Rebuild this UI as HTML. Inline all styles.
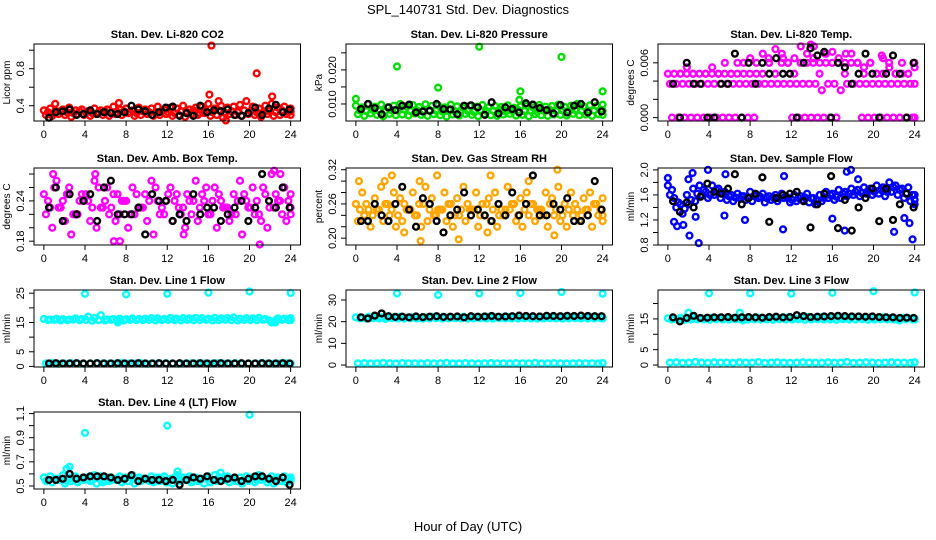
<!DOCTYPE html>
<html><head><meta charset="utf-8"><style>
html,body{margin:0;padding:0;background:#fff}
svg{display:block;font-family:"Liberation Sans",sans-serif}
</style></head><body>
<svg id="chart" width="936" height="540" viewBox="0 0 936 540">
<text x="468" y="14" text-anchor="middle" font-size="13">SPL_140731  Std. Dev. Diagnostics</text>
<text x="468" y="531" text-anchor="middle" font-size="13">Hour of Day (UTC)</text>
</svg>
<script>
const xTicks = [0,4,8,12,16,20,24];

const co2A = [0.35,0.37,0.34,0.36,0.38,0.35,0.36,0.34,0.37,0.35,0.36,0.39,0.36,0.37,0.35,0.38,0.36,0.37,0.39,0.36,0.38,0.37,0.40,0.36,0.38,0.39,0.42,0.37,0.40,0.38,0.39,0.41,0.45,0.39,0.37,0.40,0.42,0.38,0.39,0.37];
const co2B = [0.30,0.29,0.31,0.30,0.28,0.31,0.30,0.29,0.31,0.30,0.29,0.31,0.30,0.32,0.29,0.30,0.31,0.29,0.30,0.31,0.29,0.30,0.28,0.31,0.30,0.32,0.29,0.30,0.27,0.31,0.30,0.29,0.31,0.30,0.28,0.31,0.29,0.30,0.31,0.30];
const co2C = [0.33,0.32,0.34,0.33,0.32,0.34,0.33,0.32,0.33,0.34,0.32,0.33,0.34,0.33,0.32,0.34,0.33,0.32,0.34,0.33,0.32,0.34,0.33,0.35,0.32,0.34,0.33,0.35,0.32,0.34,0.33,0.35,0.34,0.33,0.32,0.34,0.33,0.35,0.33,0.34];
const co2Black = [0.27,0.33,0.34,0.36,0.30,0.31,0.35,0.31,0.33,0.32,0.31,0.33,0.40,0.36,0.34,0.30,0.33,0.38,0.39,0.29,0.32,0.29,0.40,0.33,0.35,0.34,0.36,0.30,0.29,0.32,0.38,0.30,0.37,0.41,0.33,0.36];
const co2OutX = [16.3,20.7,16.1,22.2,17.0,17.7,1.1,7.3];
const co2OutY = [1.05,0.75,0.52,0.50,0.45,0.24,0.42,0.43];

const presA = [0.0095,0.0090,0.0100,0.0092,0.0098,0.0090,0.0095,0.0100,0.0093,0.0097,0.0091,0.0099,0.0094,0.0096,0.0090,0.0098,0.0093,0.0088,0.0095,0.0092,0.0097,0.0090,0.0094,0.0091,0.0096,0.0089,0.0093,0.0095,0.0090,0.0097,0.0092,0.0094,0.0098,0.0091,0.0095,0.0100,0.0093,0.0096,0.0094,0.0098];
const presB = [0.0070,0.0065,0.0072,0.0068,0.0064,0.0071,0.0067,0.0069,0.0066,0.0072,0.0068,0.0065,0.0070,0.0067,0.0063,0.0069,0.0066,0.0071,0.0068,0.0064,0.0070,0.0067,0.0065,0.0069,0.0071,0.0066,0.0068,0.0064,0.0070,0.0067,0.0065,0.0069,0.0068,0.0066,0.0071,0.0067,0.0069,0.0065,0.0070,0.0068];
const presC = [0.0081,0.0079,0.0083,0.0080,0.0078,0.0082,0.0080,0.0084,0.0079,0.0081,0.0077,0.0082,0.0080,0.0078,0.0083,0.0079,0.0081,0.0080,0.0077,0.0082,0.0079,0.0081,0.0083,0.0078,0.0080,0.0082,0.0079,0.0081,0.0077,0.0080,0.0083,0.0079,0.0081,0.0078,0.0082,0.0080,0.0079,0.0081,0.0083,0.0080];
const presBlack = [0.0085,0.0100,0.0088,0.0070,0.0090,0.0082,0.0095,0.0098,0.0075,0.0078,0.0080,0.0100,0.0085,0.0084,0.0070,0.0095,0.0096,0.0090,0.0068,0.0105,0.0072,0.0090,0.0085,0.0075,0.0102,0.0098,0.0088,0.0082,0.0072,0.0097,0.0075,0.0095,0.0100,0.0075,0.0105,0.0078];
const presOutX = [0,4,8,12,16,15.9,20,24];
const presOutY = [0.0115,0.0210,0.0148,0.0268,0.0137,0.0112,0.0238,0.0137];

const tempA = [0.0048,0.0048,0.0048,0.0055,0.0048,0.0048,0.0048,0.0055,0.0048,0.0060,0.0048,0.0060,0.0060,0.0065,0.0060,0.0070,0.0060,0.0075,0.0070,0.0060,0.0065,0.0078,0.0070,0.0065,0.0060,0.0070,0.0072,0.0065,0.0060,0.0070,0.0060,0.0055,0.0060,0.0048,0.0065,0.0055,0.0048,0.0060,0.0048,0.0055];
const tempB = [0.0037,0.0037,0.0037,0.0037,0.0037,0.0037,0.0037,0.0037,0.0037,0.0037,0.0037,0.0037,0.0037,0.0037,0.0037,0.0037,0.0037,0.0037,0.0037,0.0037,0.0037,0.0037,0.0037,0.0037,0.0030,0.0037,0.0037,0.0030,0.0037,0.0037,0.0037,0.0037,0.0037,0.0037,0.0037,0.0037,0.0037,0.0037,0.0037,0.0037];
const tempC = [0,0,0,0,0,0,0,0,0,0,0,0,0,0,null,null,null,null,null,0,0,0,0,0,0,0,0,null,null,null,0,0,0,0,0,0,0,0,0,0];
const tempD = [null,0.0048,0.0048,0.0048,null,0.0048,0.0048,0.0048,0.0048,0.0048,0.0048,0.0048,0.0048,0.0048,0.0048,0.0060,0.0048,0.0060,0.0060,0.0048,0.0060,0.0060,0.0060,0.0048,0.0060,0.0060,0.0060,0.0048,0.0060,0.0060,0.0048,0.0060,0.0048,0.0048,0.0060,0.0048,0.0048,0.0048,0.0060,null];
const tempBlack = [0.0037,0,0.0060,0.0037,0.0037,0,0,0.0037,0.0037,0.0070,0,0.0060,0.0037,0.0060,0.0048,0.0065,0.0048,0.0048,0,0.0060,0.0076,0.0068,0.0072,0,0.0060,0.0055,0.0037,0.0048,0.0070,0.0048,0,0.0048,0.0068,0.0048,0,0.0060];
const tempOutX = [9.8,11.2,13.9,14.2,15.3,17.3,20.8];
const tempOutY = [0.0065,0.0065,0.0080,0.0078,0.0070,0.0070,0.0068];

const ambA = [0.25,0.23,0.27,0.24,0.26,0.22,0.25,0.24,0.27,0.23,0.26,0.25,0.22,0.24,0.26,0.23,0.25,0.27,0.24,0.22,0.26,0.25,0.23,0.24,0.27,0.25,0.22,0.26,0.24,0.23,0.25,0.27,0.24,0.26,0.22,0.25,0.28,0.24,0.26,0.25];
const ambB = [0.22,0.20,0.23,0.21,0.19,0.22,0.24,0.21,0.20,0.23,0.22,0.21,0.24,0.20,0.22,0.23,0.21,0.19,0.22,0.24,0.21,0.23,0.20,0.22,0.21,0.24,0.22,0.20,0.23,0.21,0.22,0.19,0.23,0.22,0.21,0.20,0.23,0.24,0.21,0.22];
const ambC = [0.24,0.26,0.23,0.25,0.22,0.24,0.25,0.23,0.26,0.24,0.23,0.25,0.24,0.22,0.25,0.23,0.24,0.26,0.23,0.25,0.24,0.22,0.25,0.24,0.23,0.26,0.24,0.25,0.23,0.22,0.24,0.25,0.23,0.24,0.26,0.23,0.25,0.22,0.24,0.23];
const ambBlack = [0.23,0.26,0.21,0.25,0.22,0.24,0.25,0.21,0.26,0.27,0.22,0.22,0.22,0.23,0.19,0.25,0.24,0.24,0.21,0.22,0.21,0.25,0.22,0.23,0.23,0.21,0.22,0.23,0.24,0.21,0.23,0.28,0.24,0.23,0.26,0.23];
const ambOutX = [0.9,5.0,6.8,7.4,13.6,21.0,22.4,23.0];
const ambOutY = [0.28,0.28,0.18,0.18,0.19,0.175,0.285,0.28];

const rhA = [0.26,0.28,0.25,0.27,0.29,0.26,0.28,0.27,0.25,0.28,0.26,0.29,0.27,0.25,0.28,0.26,0.27,0.29,0.25,0.28,0.26,0.27,0.28,0.25,0.29,0.26,0.27,0.28,0.26,0.25,0.28,0.27,0.29,0.26,0.28,0.25,0.27,0.28,0.26,0.27];
const rhB = [0.23,0.24,0.22,0.25,0.23,0.24,0.22,0.23,0.25,0.24,0.22,0.23,0.24,0.25,0.23,0.22,0.24,0.23,0.25,0.22,0.24,0.23,0.22,0.24,0.25,0.23,0.22,0.24,0.23,0.25,0.22,0.24,0.23,0.22,0.24,0.23,0.25,0.22,0.24,0.23];
const rhC = [0.25,0.26,0.24,0.25,0.26,0.25,0.24,0.26,0.25,0.24,0.26,0.25,0.24,0.25,0.26,0.24,0.25,0.26,0.25,0.24,0.26,0.25,0.24,0.25,0.26,0.24,0.25,0.26,0.25,0.24,0.26,0.25,0.24,0.25,0.26,0.24,0.25,0.26,0.25,0.24];
const rhBlack = [0.23,0.23,0.26,0.24,0.23,0.26,0.29,0.25,0.22,0.27,0.26,0.23,0.21,0.24,0.25,0.28,0.24,0.25,0.24,0.23,0.26,0.24,0.28,0.24,0.26,0.31,0.24,0.24,0.26,0.25,0.27,0.23,0.23,0.24,0.30,0.25];
const rhOutX = [0.3,2.8,3.5,6.2,7.9,6.3,10.0,12.8,13.1,19.6,19.3,16.8,4.7];
const rhOutY = [0.30,0.30,0.31,0.30,0.31,0.195,0.198,0.21,0.31,0.32,0.205,0.30,0.21];

const sfA = [1.75,1.55,1.45,1.60,1.70,1.75,1.65,1.75,1.70,1.65,1.60,1.62,1.58,1.65,1.60,1.62,1.58,1.60,1.62,1.55,1.60,1.58,1.62,1.55,1.60,1.65,1.62,1.68,1.65,1.70,1.68,1.72,1.70,1.75,1.72,1.80,1.75,1.70,1.72,1.60];
const sfB = [1.60,1.40,1.30,1.45,1.50,1.60,1.55,1.60,1.55,1.52,1.50,1.55,1.52,1.50,1.55,1.48,1.52,1.50,1.55,1.48,1.50,1.52,1.48,1.45,1.50,1.55,1.52,1.55,1.58,1.60,1.58,1.62,1.60,1.62,1.58,1.65,1.60,1.55,1.50,1.45];
const sfC = [1.68,1.48,1.38,1.52,1.62,1.68,1.60,1.68,1.62,1.58,1.56,1.58,1.55,1.58,1.57,1.55,1.56,1.55,1.58,1.52,1.55,1.56,1.55,1.50,1.55,1.60,1.57,1.62,1.62,1.65,1.63,1.67,1.65,1.68,1.65,1.72,1.68,1.62,1.60,1.52];
const sfBlack = [1.50,1.33,1.48,1.40,1.57,1.78,1.65,1.62,1.70,1.93,1.45,1.55,1.62,1.88,1.17,1.55,1.60,1.62,1.65,1.50,1.08,1.45,1.62,1.90,1.07,1.52,1.03,1.40,1.55,1.70,1.18,1.70,1.20,1.45,1.62,1.40];
const sfOutX = [0,0.6,0.9,1.5,2.0,2.1,2.4,2.7,3.0,3.9,5.5,7.5,11.2,11.3,16.0,17.2,17.4,17.8,18.5,22.0,23.0,23.8,23.5,5.6];
const sfOutY = [1.87,1.17,1.10,1.12,1.85,0.95,1.95,1.25,0.83,2.00,1.27,1.20,1.05,1.90,1.22,1.03,1.97,2.00,1.85,1.01,1.23,0.89,1.15,1.93];

const l1A = [16.2,16.0,16.3,16.1,16.0,16.4,16.2,17.0,16.5,17.5,16.0,16.2,16.3,16.1,16.4,16.2,16.3,16.5,16.4,16.2,16.6,16.3,16.5,16.4,16.6,16.5,16.3,16.6,16.4,16.5,16.7,16.3,16.5,16.4,16.6,16.2,15.0,16.4,16.3,16.5];
const l1B = [1.0,1.1,0.9,1.0,1.1,1.0,0.9,1.0,1.1,1.0,1.0,0.9,1.1,1.0,1.0,1.1,0.9,1.0,1.0,1.1,1.0,0.9,1.0,1.1,1.0,1.0,0.9,1.1,1.0,1.0,1.1,0.9,1.0,1.0,1.1,1.0,0.9,1.0,1.1,1.0];
const l1C = [15.8,15.9,15.7,15.8,16.0,15.8,15.9,15.6,15.8,15.7,15.9,15.8,15.7,15.9,15.8,15.8,15.9,15.7,15.8,15.9,15.8,15.7,15.9,15.8,15.8,15.9,15.7,15.8,15.9,15.8,15.7,15.9,15.8,15.8,15.9,15.7,15.8,15.9,15.8,15.8];
const l1Black = [1.0,1.1,1.0,1.0,1.1,1.0,1.0,1.1,1.0,1.0,1.1,1.0,1.0,1.1,1.0,1.0,1.1,1.0,1.0,1.1,1.0,1.0,1.1,1.0,1.0,1.1,1.0,1.0,1.1,1.0,1.0,1.1,1.0,1.0,1.1,1.0];
const l1OutX = [4,8,12,16,20,24,7.2,22.5];
const l1OutY = [24.8,24.6,24.8,25.2,25.6,25.1,15.0,15.0];

const l2A = [22.0,21.8,22.2,21.9,22.1,21.8,22.0,22.3,21.9,22.1,21.7,22.0,22.2,21.9,22.1,22.0,21.8,22.2,22.0,22.1,21.9,22.3,22.0,21.8,22.2,22.1,21.9,22.0,22.2,21.8,22.1,22.0,21.9,22.2,22.0,21.8,22.1,22.0,22.2,21.9];
const l2B = [0.8,0.9,0.7,0.8,1.0,0.8,0.7,0.9,0.8,0.8,0.7,0.9,0.8,0.8,1.0,0.7,0.8,0.9,0.8,0.7,0.8,0.9,0.8,0.8,0.7,0.9,0.8,0.8,1.0,0.7,0.8,0.9,0.8,0.7,0.8,0.9,0.8,0.8,0.7,0.9];
const l2C = [21.5,21.4,21.6,21.5,21.3,21.6,21.5,21.4,21.6,21.5,21.4,21.5,21.6,21.4,21.5,21.6,21.5,21.4,21.5,21.6,21.5,21.4,21.6,21.5,21.5,21.4,21.6,21.5,21.4,21.5,21.6,21.5,21.4,21.5,21.6,21.5,21.4,21.5,21.6,21.5];
const l2Black = [22.0,21.5,22.8,23.8,22.5,22.2,22.3,22.0,22.4,22.1,22.3,22.5,22.2,22.3,22.4,22.0,22.5,22.3,22.4,22.6,22.3,22.4,22.5,22.8,22.6,22.5,22.4,22.7,22.6,22.5,22.7,22.6,22.8,22.6,22.5,22.5];
const l2OutX = [4,8,12,16,20,24];
const l2OutY = [33.0,32.3,33.0,33.2,33.7,32.9];

const l3A = [15.2,15.0,15.4,15.1,15.3,15.2,15.0,15.4,15.3,15.1,15.2,15.4,15.3,15.1,15.5,15.3,15.2,15.4,15.3,15.5,15.2,15.4,15.6,15.3,15.5,15.4,15.2,15.5,15.3,15.4,15.6,15.3,15.4,15.2,15.5,15.3,15.1,15.4,15.3,15.2];
const l3B = [0.8,0.9,0.7,0.8,1.0,0.8,0.7,0.9,0.8,0.8,0.7,0.9,0.8,0.8,1.0,0.7,0.8,0.9,0.8,0.7,0.8,0.9,0.8,0.8,0.7,0.9,0.8,0.8,1.0,0.7,0.8,0.9,0.8,0.7,0.8,0.9,0.8,0.8,0.7,0.9];
const l3C = [14.8,14.9,14.7,14.8,14.9,14.8,14.7,14.9,14.8,14.8,14.9,14.7,14.8,14.9,14.8,14.8,14.7,14.9,14.8,14.8,14.9,14.7,14.8,14.9,14.8,14.8,14.7,14.9,14.8,14.8,14.9,14.7,14.8,14.9,14.8,14.8,14.7,14.9,14.8,14.8];
const l3Black = [15.5,14.2,15.3,16.0,15.3,15.4,15.5,15.5,15.6,15.4,15.5,15.6,15.5,15.4,15.6,15.7,15.5,15.6,16.2,15.9,15.6,15.7,15.8,15.9,16.0,15.9,15.8,15.8,15.7,15.8,15.6,15.5,15.5,15.3,15.4,15.3];
const l3OutX = [4,8,12,16,20,24,2.0,7.0,7.3,22.5];
const l3OutY = [23.3,23.3,23.2,23.5,24.0,23.6,17.0,17.0,14.5,14.5];

const l4A = [0.57,0.58,0.56,0.59,0.57,0.58,0.56,0.57,0.59,0.58,0.57,0.56,0.58,0.57,0.59,0.57,0.56,0.58,0.57,0.58,0.56,0.59,0.57,0.58,0.57,0.56,0.58,0.59,0.57,0.58,0.56,0.57,0.58,0.57,0.59,0.56,0.58,0.57,0.58,0.57];
const l4B = [0.54,0.53,0.55,0.52,0.54,0.53,0.55,0.54,0.52,0.53,0.54,0.55,0.53,0.54,0.52,0.54,0.55,0.53,0.54,0.53,0.52,0.54,0.55,0.53,0.54,0.52,0.53,0.54,0.55,0.53,0.54,0.52,0.54,0.53,0.55,0.53,0.52,0.54,0.53,0.54];
const l4C = [0.55,0.56,0.55,0.54,0.56,0.55,0.57,0.55,0.56,0.54,0.55,0.56,0.55,0.57,0.55,0.56,0.54,0.55,0.56,0.55,0.57,0.55,0.56,0.54,0.55,0.56,0.55,0.57,0.55,0.56,0.54,0.55,0.56,0.55,0.57,0.55,0.56,0.54,0.55,0.56];
const l4Black = [0.55,0.55,0.56,0.60,0.56,0.57,0.58,0.58,0.58,0.57,0.55,0.56,0.59,0.54,0.56,0.55,0.55,0.54,0.55,0.51,0.55,0.57,0.56,0.58,0.55,0.54,0.56,0.57,0.54,0.56,0.58,0.58,0.56,0.54,0.57,0.51];
const l4OutX = [4,12,20,2.2,2.5,13.0,17.2];
const l4OutY = [0.94,1.00,1.09,0.64,0.66,0.62,0.61];

const panels = [
 {name:'co2',title:'Stan. Dev. Li-820 CO2',ylab:'Licor ppm',col:0,row:0,ylim:[0.235,1.067],ticks:[0.4,0.6,0.8,1.0],labels:['0.4','','0.8',''],color:'#ff0000',series:[co2A,co2B,co2C],black:co2Black,ox:co2OutX,oy:co2OutY},
 {name:'pressure',title:'Stan. Dev. Li-820 Pressure',ylab:'kPa',col:1,row:0,ylim:[0.005,0.0276],ticks:[0.010,0.015,0.020,0.025],labels:['0.010','','0.020',''],color:'#00e000',series:[presA,presB,presC],black:presBlack,ox:presOutX,oy:presOutY},
 {name:'temp',title:'Stan. Dev. Li-820 Temp.',ylab:'degrees C',col:2,row:0,ylim:[-0.00037,0.00806],ticks:[0,0.002,0.004,0.006],labels:['0.000','','','0.006'],color:'#ff00ff',series:[tempA,tempB,tempC,tempD],black:tempBlack,ox:tempOutX,oy:tempOutY},
 {name:'amb-temp',title:'Stan. Dev. Amb. Box Temp.',ylab:'degrees C',col:0,row:1,ylim:[0.1743,0.289],ticks:[0.18,0.20,0.22,0.24,0.26,0.28],labels:['0.18','','','0.24','',''],color:'#ff00ff',series:[ambA,ambB,ambC],black:ambBlack,ox:ambOutX,oy:ambOutY},
 {name:'gas-rh',title:'Stan. Dev. Gas Stream RH',ylab:'percent',col:1,row:1,ylim:[0.188,0.323],ticks:[0.20,0.22,0.24,0.26,0.28,0.30,0.32],labels:['0.20','','','0.26','','','0.32'],color:'#ffa500',series:[rhA,rhB,rhC],black:rhBlack,ox:rhOutX,oy:rhOutY},
 {name:'sample-flow',title:'Stan. Dev. Sample Flow',ylab:'ml/min',col:2,row:1,ylim:[0.8,2.03],ticks:[0.8,1.0,1.2,1.4,1.6,1.8,2.0],labels:['0.8','','1.2','','1.6','','2.0'],color:'#0000ff',series:[sfA,sfB,sfC],black:sfBlack,ox:sfOutX,oy:sfOutY},
 {name:'line1-flow',title:'Stan. Dev. Line 1 Flow',ylab:'ml/min',col:0,row:2,ylim:[-0.2,26.1],ticks:[0,5,10,15,20,25],labels:['0','5','','15','','25'],color:'#00ffff',series:[l1A,l1B,l1C],black:l1Black,ox:l1OutX,oy:l1OutY},
 {name:'line2-flow',title:'Stan. Dev. Line 2 Flow',ylab:'ml/min',col:1,row:2,ylim:[-0.9,34.6],ticks:[0,10,20,30],labels:['0','10','20','30'],color:'#00ffff',series:[l2A,l2B,l2C],black:l2Black,ox:l2OutX,oy:l2OutY},
 {name:'line3-flow',title:'Stan. Dev. Line 3 Flow',ylab:'ml/min',col:2,row:2,ylim:[-0.64,24.4],ticks:[0,5,10,15,20],labels:['0','5','','15',''],color:'#00ffff',series:[l3A,l3B,l3C],black:l3Black,ox:l3OutX,oy:l3OutY},
 {name:'line4-flow',title:'Stan. Dev. Line 4 (LT) Flow',ylab:'ml/min',col:0,row:3,ylim:[0.475,1.113],ticks:[0.5,0.6,0.7,0.8,0.9,1.0,1.1],labels:['0.5','','0.7','','0.9','','1.1'],color:'#00ffff',series:[l4A,l4B,l4C],black:l4Black,ox:l4OutX,oy:l4OutY}
];

const NS='http://www.w3.org/2000/svg';
const svg=document.getElementById('chart');
const rowTops=[44,168,290,412];
const boxH=77;
function mk(tag,attrs,parent){const e=document.createElementNS(NS,tag);for(const k in attrs)e.setAttribute(k,attrs[k]);parent.appendChild(e);return e;}

panels.forEach(p=>{
  const L=312*p.col+34, R=312*p.col+300.5, T=rowTops[p.row], B=T+boxH;
  const xs=v=>L+(v+0.96)/25.92*(R-L);
  const ys=v=>B-(v-p.ylim[0])/(p.ylim[1]-p.ylim[0])*(B-T);
  const g=mk('g',{},svg);
  
  
  const pts=mk('g',{fill:'none','stroke-width':'2.4'},g);
  
  
  p.series.forEach((arr,si)=>{
    const n=arr.length;
    arr.forEach((v,i)=>{
      if(v===null)return;
      const xv=Math.min(24, i*24/(n-1)+si*0.2);
      const c=mk('circle',{cx:xs(xv),cy:ys(v),r:2.9,stroke:p.color},pts);
      
      
    });
  });
  p.ox.forEach((xv,i)=>{
    const c=mk('circle',{cx:xs(xv),cy:ys(p.oy[i]),r:2.9,stroke:p.color},pts);
    
    
  });
  const nb=p.black.length;
  p.black.forEach((v,i)=>{
    const xv=0.5+i*(23.9-0.5)/(nb-1);
    const c=mk('circle',{cx:xs(xv),cy:ys(v),r:2.9,stroke:'#000'},pts);
    
    
  });
  const box=mk('rect',{x:L,y:T,width:R-L,height:B-T,fill:'none',stroke:'#000','stroke-width':'1'},g);
  
  
  xTicks.forEach(t=>{
    mk('line',{x1:xs(t),x2:xs(t),y1:B,y2:B+5,stroke:'#000'},g);
    const tx=mk('text',{x:xs(t),y:B+17,'text-anchor':'middle','font-size':'11'},g);
    tx.textContent=t;
    
    
  });
  p.ticks.forEach((t,i)=>{
    mk('line',{x1:L-5,x2:L,y1:ys(t),y2:ys(t),stroke:'#000'},g);
    if(p.labels[i]){
      const tx=mk('text',{x:0,y:0,'text-anchor':'middle','font-size':'11',transform:`translate(${L-10},${ys(t)}) rotate(-90)`},g);
      tx.textContent=p.labels[i];
      
      
    }
  });
  const yl=mk('text',{x:0,y:0,'text-anchor':'middle','font-size':'10',transform:`translate(${L-24},${(T+B)/2}) rotate(-90)`},g);
  yl.textContent=p.ylab;
  
  
  const ti=mk('text',{x:(L+R)/2,y:T-6,'text-anchor':'middle','font-size':'11','font-weight':'bold'},g);
  ti.textContent=p.title;
  
  
});
</script>
</body></html>
